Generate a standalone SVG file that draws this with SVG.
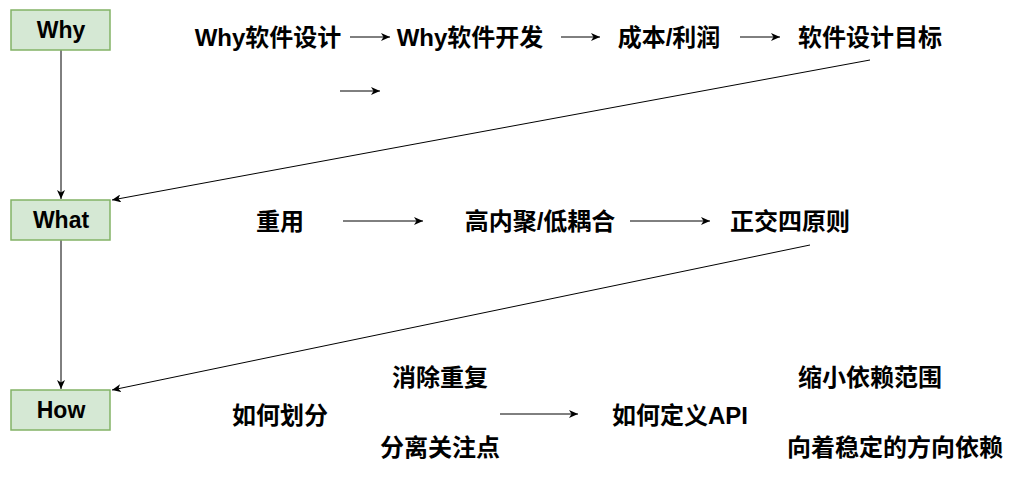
<svg xmlns="http://www.w3.org/2000/svg" width="1031" height="482" viewBox="0 0 1031 482">
<style>
.box{fill:#d5e8d4;stroke:#82b366;stroke-width:1.5}
.bt{font-family:"Liberation Sans","Noto Sans CJK SC",sans-serif;font-weight:bold;font-size:23px;fill:#000;text-anchor:middle;dominant-baseline:central}
.t{font-family:"Liberation Sans","Noto Sans CJK SC",sans-serif;font-weight:bold;font-size:24px;fill:#000;text-anchor:middle;dominant-baseline:central}
.c{stroke:#000;stroke-width:1;fill:none;marker-end:url(#ah)}
</style>
<defs>
<marker id="ah" markerUnits="userSpaceOnUse" markerWidth="10" markerHeight="8" refX="9" refY="4" orient="auto">
<path d="M0,0 L9,4 L0,8 L2.5,4 z" fill="#000"/>
</marker>
</defs>
<rect width="1031" height="482" fill="#fff"/>
<g id="connectors">
<line class="c" x1="61" y1="50" x2="61" y2="199"/>
<line class="c" x1="61" y1="240" x2="61" y2="389"/>
<line class="c" x1="870" y1="60" x2="112" y2="200"/>
<line class="c" x1="810" y1="245" x2="112" y2="390"/>
<line class="c" x1="350" y1="37" x2="390" y2="37"/>
<line class="c" x1="561" y1="37" x2="600" y2="37"/>
<line class="c" x1="740" y1="37" x2="780" y2="37"/>
<line class="c" x1="340" y1="91" x2="380" y2="91"/>
<line class="c" x1="343" y1="221" x2="423" y2="221"/>
<line class="c" x1="630" y1="221" x2="710" y2="221"/>
<line class="c" x1="500" y1="414" x2="578" y2="414"/>
</g>
<g id="why"><rect class="box" x="11" y="10" width="99" height="40"/><text class="bt" x="61" y="30">Why</text></g>
<g id="what"><rect class="box" x="11" y="200" width="99" height="40"/><text class="bt" x="61" y="220">What</text></g>
<g id="how"><rect class="box" x="11" y="390" width="99" height="40"/><text class="bt" x="61" y="410">How</text></g>
<g id="why-software-design"><text class="t" x="268" y="37">Why软件设计</text></g>
<g id="why-software-dev"><text class="t" x="470" y="37">Why软件开发</text></g>
<g id="cost-profit"><text class="t" x="669" y="37">成本/利润</text></g>
<g id="design-goal"><text class="t" x="870" y="37">软件设计目标</text></g>
<g id="reuse"><text class="t" x="280" y="221">重用</text></g>
<g id="cohesion"><text class="t" x="540" y="221">高内聚/低耦合</text></g>
<g id="orthogonal"><text class="t" x="790" y="221">正交四原则</text></g>
<g id="dedup"><text class="t" x="440" y="377">消除重复</text></g>
<g id="partition"><text class="t" x="280" y="415">如何划分</text></g>
<g id="separation"><text class="t" x="440" y="447">分离关注点</text></g>
<g id="api"><text class="t" x="680" y="415">如何定义API</text></g>
<g id="narrow"><text class="t" x="870" y="377">缩小依赖范围</text></g>
<g id="stable"><text class="t" x="895" y="447">向着稳定的方向依赖</text></g>
</svg>
